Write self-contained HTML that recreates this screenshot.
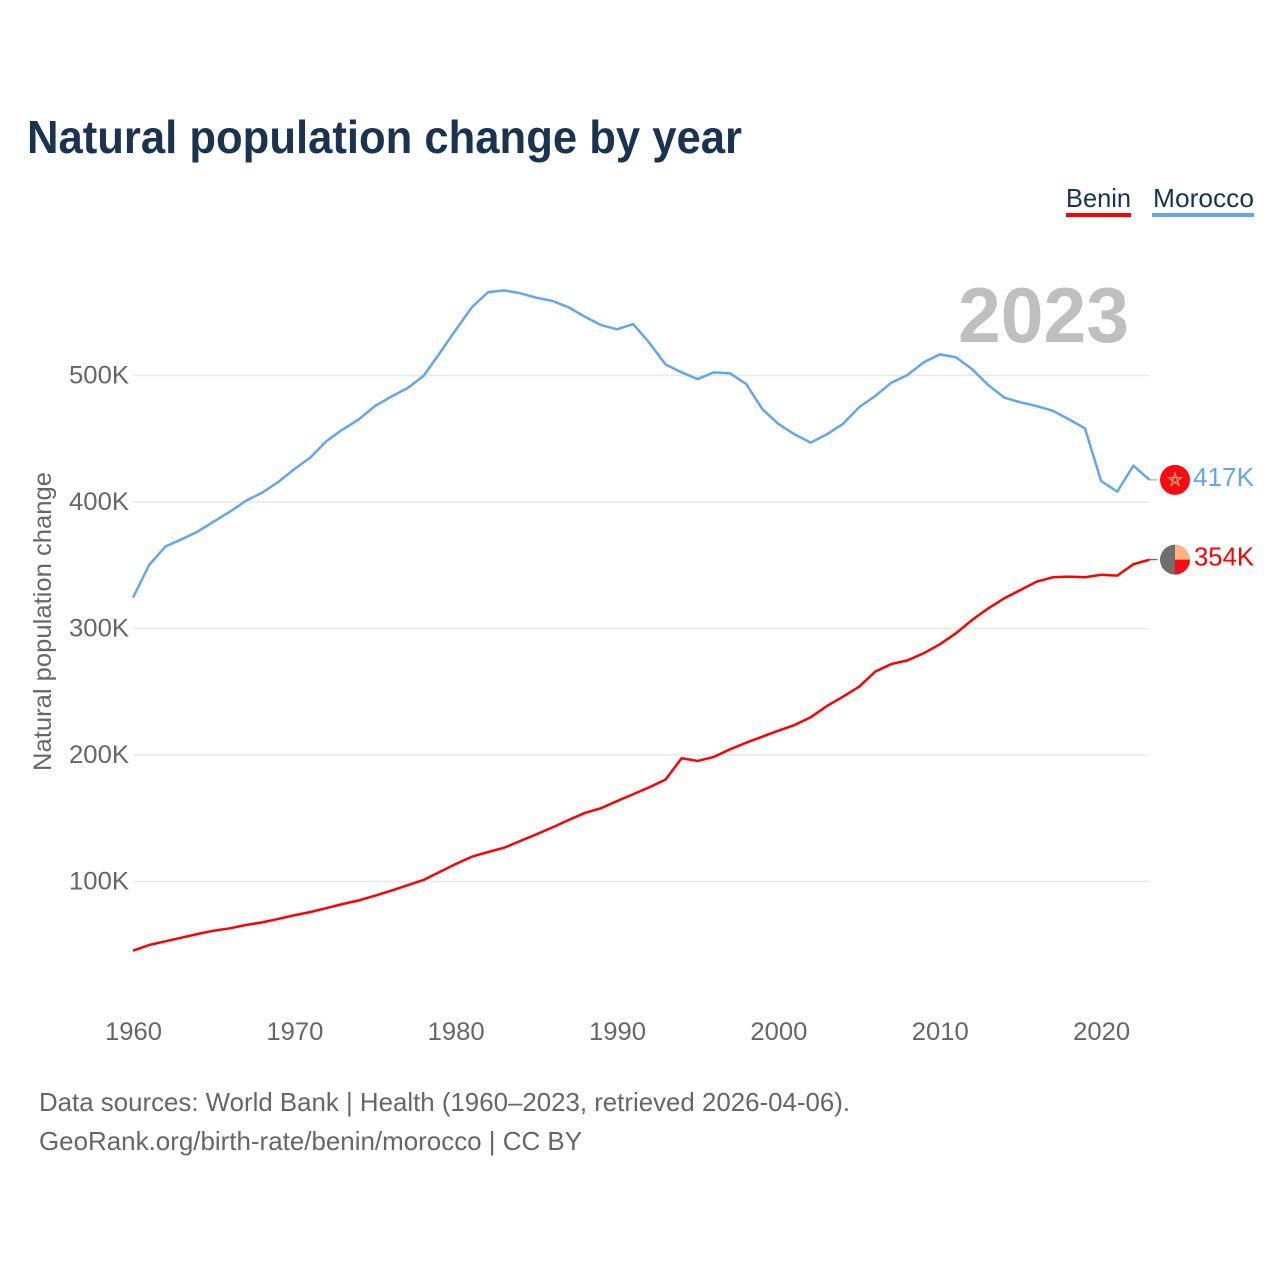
<!DOCTYPE html>
<html lang="en">
<head>
<meta charset="utf-8">
<title>Natural population change by year</title>
<style>
  html, body { margin: 0; padding: 0; background: #ffffff; }
  body { width: 1280px; height: 1280px; overflow: hidden; }
  svg { display: block; }
  text { font-family: "Liberation Sans", sans-serif; }
</style>
</head>
<body>
<svg id="chart" xmlns="http://www.w3.org/2000/svg" width="1280" height="1280" viewBox="0 0 1280 1280">
  <rect x="0" y="0" width="1280" height="1280" fill="#ffffff"/>
  <text x="27" y="153" font-size="46" font-weight="700" fill="#1a3350" textLength="715" lengthAdjust="spacingAndGlyphs">Natural population change by year</text>

  <g>
    <text x="1066" y="207" font-size="26" fill="#1a3350" textLength="65" lengthAdjust="spacingAndGlyphs">Benin</text>
    <rect x="1066" y="213" width="65" height="4" fill="#ff0000"/>
  </g>
  <g>
    <text x="1153" y="207" font-size="26" fill="#1a3350" textLength="101" lengthAdjust="spacingAndGlyphs">Morocco</text>
    <rect x="1152" y="213" width="102" height="4" fill="#62a6ee"/>
  </g>

  <text x="958" y="342" font-size="78" font-weight="700" fill="#bfbfbf" textLength="171" lengthAdjust="spacingAndGlyphs">2023</text>

  <g id="grid"></g>
  <g id="yAxis"></g>
  <g id="xAxis"></g>
  <text transform="translate(51 771) rotate(-90)" x="0" y="0" font-size="25" fill="#666666" textLength="299" lengthAdjust="spacingAndGlyphs">Natural population change</text>
  <g id="series"></g>
  <g id="endpoints"></g>

  <text x="39" y="1111" font-size="26" fill="#666666" textLength="811" lengthAdjust="spacingAndGlyphs">Data sources: World Bank | Health (1960–2023, retrieved 2026-04-06).</text>
  <text x="39" y="1150" font-size="26" fill="#666666" textLength="543" lengthAdjust="spacingAndGlyphs">GeoRank.org/birth-rate/benin/morocco | CC BY</text>
</svg>
<script>
// Chart data (values in thousands)
const firstYear = 1960;
const lastYear = 2023;
const yTickValues = [100, 200, 300, 400, 500];
const xTickValues = [1960, 1970, 1980, 1990, 2000, 2010, 2020];
const moroccoValues = [
  324.4, 350.2, 364.7, 370.5, 376.5, 384.4, 392.3, 401.0, 407.3, 415.8,
  426.0, 435.3, 448.2, 457.4, 465.4, 475.9, 483.3, 489.9, 499.6, 517.5,
  536.0, 553.9, 565.8, 567.3, 565.0, 561.5, 558.9, 553.9, 546.5, 539.9,
  536.5, 540.7, 525.9, 508.8, 502.5, 497.2, 502.5, 501.7, 493.3, 473.5,
  461.7, 453.5, 446.9, 453.5, 461.7, 474.9, 483.8, 494.3, 500.4, 510.4,
  516.7, 514.4, 505.1, 492.5, 482.5, 478.8, 475.9, 472.2, 465.4, 458.2,
  416.6, 408.2, 428.7, 417.5
];
const beninValues = [
  45.3, 49.8, 52.7, 55.6, 58.5, 61.1, 63.0, 65.6, 67.7, 70.4,
  73.3, 75.9, 79.0, 82.2, 85.1, 88.8, 92.7, 97.0, 101.2, 107.5,
  113.8, 119.6, 123.3, 126.7, 132.0, 137.3, 142.8, 148.6, 154.2, 157.9,
  163.6, 169.0, 174.5, 180.5, 197.4, 195.3, 198.5, 204.5, 209.7, 214.5,
  219.2, 223.7, 229.8, 238.7, 246.1, 254.0, 265.9, 271.9, 274.8, 280.4,
  287.5, 296.2, 306.7, 315.9, 323.9, 330.4, 337.0, 340.5, 341.0, 340.5,
  342.5, 341.8, 350.8, 354.4
];
const moroccoLabel = "417K";
const beninLabel = "354K";

// Axis functions
const xScale = function (year) {
  return 133 + (year - firstYear) * (1149.5 - 133) / (lastYear - firstYear);
};
const yScale = function (value) {
  return 1008 - value * 1.265;
};

const NS = "http://www.w3.org/2000/svg";
const make = function (tag, attrs, parent) {
  const el = document.createElementNS(NS, tag);
  Object.keys(attrs).forEach(function (k) { el.setAttribute(k, attrs[k]); });
  parent.appendChild(el);
  return el;
};
const grid = document.getElementById("grid");
const yAxis = document.getElementById("yAxis");
const xAxis = document.getElementById("xAxis");
const series = document.getElementById("series");
const endpoints = document.getElementById("endpoints");

yTickValues.forEach(function (v) {
  const line = make("line", { x1: xScale(firstYear), x2: xScale(lastYear), y1: yScale(v), y2: yScale(v), stroke: "#e9e9e9", "stroke-width": 1.5 }, grid);
  
  
  const label = make("text", { x: 129, y: yScale(v) + 8, "text-anchor": "end", "font-size": 25, fill: "#666666", textLength: 60, lengthAdjust: "spacingAndGlyphs" }, yAxis);
  
  
  label.textContent = v + "K";
});

xTickValues.forEach(function (year) {
  const label = make("text", { x: xScale(year) + 0.5, y: 1040, "text-anchor": "middle", "font-size": 25, fill: "#666666", textLength: 57, lengthAdjust: "spacingAndGlyphs" }, xAxis);
  
  
  label.textContent = year;
});

const pathFor = function (values) {
  return values.map(function (v, i) {
    return (i ? "L" : "M") + xScale(firstYear + i).toFixed(2) + " " + yScale(v).toFixed(2);
  }).join(" ");
};

const moroccoLine = make("path", { d: pathFor(moroccoValues), fill: "none", stroke: "#62a6ee", "stroke-width": 2.5, "stroke-linejoin": "round" }, series);


const beninLine = make("path", { d: pathFor(beninValues), fill: "none", stroke: "#ff0000", "stroke-width": 2.5, "stroke-linejoin": "round" }, series);



// End of line: connectors, flags, value labels
const moroccoY = yScale(moroccoValues[moroccoValues.length - 1]);
const beninY = yScale(beninValues[beninValues.length - 1]);
const endX = xScale(lastYear);

const moroccoConnector = make("line", { x1: endX, x2: endX + 8, y1: moroccoY, y2: moroccoY, stroke: "#62a6ee", "stroke-width": 1 }, endpoints);


const beninConnector = make("line", { x1: endX, x2: endX + 8, y1: beninY, y2: beninY, stroke: "#ff0000", "stroke-width": 1 }, endpoints);



const moroccoFlag = make("g", { transform: "translate(1175 " + moroccoY + ")" }, endpoints);


make("circle", { r: 15, cx: 0, cy: 0, fill: "#fb0a12" }, moroccoFlag);
make("polygon", { points: "0,-7 4.1,5.7 -6.7,-2.2 6.7,-2.2 -4.1,5.7", fill: "none", stroke: "#ffb482", "stroke-width": 1 }, moroccoFlag);

const beninFlag = make("g", { transform: "translate(1175 " + beninY + ")" }, endpoints);


make("path", { d: "M0 -15 A15 15 0 0 0 0 15 Z", fill: "#6f6f6f" }, beninFlag);
make("path", { d: "M0 -15 A15 15 0 0 1 15 0 L0 0 Z", fill: "#ffb482" }, beninFlag);
make("path", { d: "M15 0 A15 15 0 0 1 0 15 L0 0 Z", fill: "#fb0a12" }, beninFlag);

const moroccoValueLabel = make("text", { x: 1193, y: moroccoY + 6, "font-size": 26, fill: "#62a6ee", textLength: 61, lengthAdjust: "spacingAndGlyphs" }, endpoints);


moroccoValueLabel.textContent = moroccoLabel;
const beninValueLabel = make("text", { x: 1194, y: beninY + 6, "font-size": 26, fill: "#ff0000", textLength: 60, lengthAdjust: "spacingAndGlyphs" }, endpoints);


beninValueLabel.textContent = beninLabel;
</script>
</body>
</html>
